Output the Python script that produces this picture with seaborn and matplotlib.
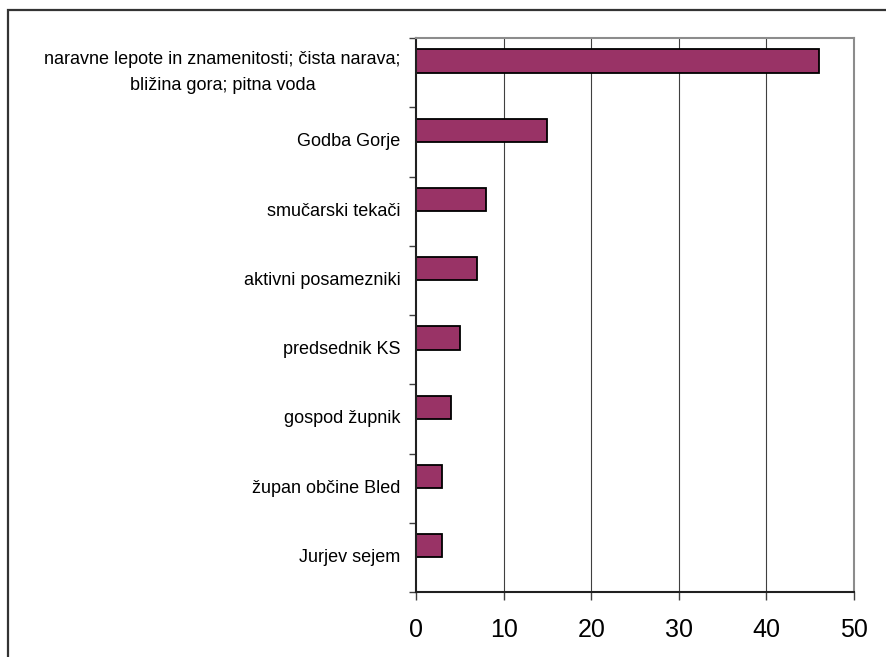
import pandas as pd
import seaborn as sns
import matplotlib
matplotlib.use('Agg')
import matplotlib.pyplot as plt
from matplotlib.patches import Rectangle
from matplotlib.ticker import FixedLocator

categories = [
    'naravne lepote in znamenitosti; čista narava;\nbližina gora; pitna voda',
    'Godba Gorje',
    'smučarski tekači',
    'aktivni posamezniki',
    'predsednik KS',
    'gospod župnik',
    'župan občine Bled',
    'Jurjev sejem',
]
values = [46, 15, 8, 7, 5, 4, 3, 3]
x_ticks = [0, 10, 20, 30, 40, 50]

# Excel-style layout: a second empty series pushes the bars up in each slot
df = pd.DataFrame({
    'kategorija': categories * 2,
    'vrednost': values + [float('nan')] * len(values),
    'serija': ['a'] * len(values) + ['b'] * len(values),
})

sns.set_style('white')
plt.rcParams['font.family'] = ['Liberation Sans', 'DejaVu Sans']
plt.rcParams['text.color'] = 'black'
plt.rcParams['xtick.labelcolor'] = 'black'
plt.rcParams['ytick.labelcolor'] = 'black'

fig = plt.figure(figsize=(8.86, 6.57), dpi=100)
ax = fig.add_axes([416 / 886, 1 - 592 / 657, (854 - 416) / 886, (592 - 38) / 657])

sns.barplot(data=df, y='kategorija', x='vrednost', hue='serija', hue_order=['a', 'b'],
            order=categories, orient='h', dodge=True, width=0.67, saturation=1,
            palette={'a': '#993366', 'b': '#993366'}, edgecolor='black',
            linewidth=1.3, legend=False, ax=ax, errorbar=None)

ax.set_xlim(0, 50)
ax.set_ylim(len(categories) - 0.5, -0.5)
ax.set_xticks(x_ticks)
ax.set_xlabel('')
ax.set_ylabel('')

# vertical gridlines
for v in x_ticks[1:-1]:
    ax.axvline(v, color='#404040', lw=0.8, zorder=0)

ax.yaxis.set_minor_locator(FixedLocator([i - 0.5 for i in range(len(categories) + 1)]))
ax.tick_params(axis='y', which='major', length=0, pad=11, labelsize=13)
ax.tick_params(axis='y', which='minor', length=5, width=1, color='#404040', left=True)
ax.tick_params(axis='x', length=6, width=1, color='#404040', pad=13, labelsize=18, bottom=True)
for lab in ax.get_yticklabels():
    lab.set_multialignment('center')
    lab.set_linespacing(1.7)
    lab.set_verticalalignment('center')

for side in ['left', 'bottom']:
    ax.spines[side].set_color('#202020')
    ax.spines[side].set_linewidth(1.5)
for side in ['top', 'right']:
    ax.spines[side].set_color('#8c8c8c')
    ax.spines[side].set_linewidth(1.5)

# chart area border
fig.patches.append(Rectangle((8 / 886, -0.1), 1.2, 1 - 10 / 657 + 0.1,
                             transform=fig.transFigure, fill=False,
                             edgecolor='#333333', linewidth=1.6))

fig.savefig('out.png', dpi=100)
